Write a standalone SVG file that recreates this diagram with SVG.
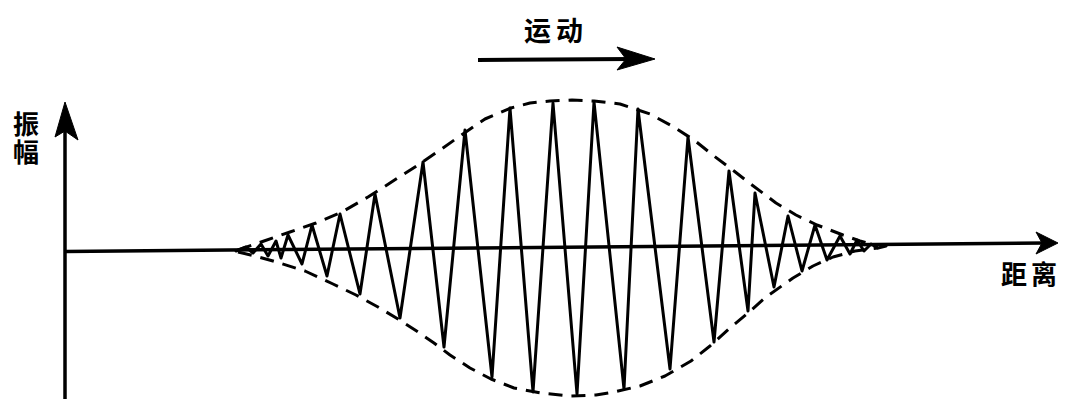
<svg xmlns="http://www.w3.org/2000/svg" width="1072" height="401" viewBox="0 0 1072 401">
<style>
.ax{fill:none;stroke:#000;stroke-width:3.5;stroke-linecap:butt}
.head{fill:#000;stroke:#000;stroke-width:1;stroke-linejoin:round}
.wave{fill:none;stroke:#000;stroke-width:3;stroke-linejoin:round;stroke-linecap:round}
.env{fill:none;stroke:#000;stroke-width:3;stroke-dasharray:14 9;stroke-linejoin:round}
.lbl{font-family:"Noto Sans CJK SC","Noto Sans",sans-serif;font-weight:bold;fill:#000}
</style>
<rect width="1072" height="401" fill="#fff"/>
<g id="connectors">
  <line class="ax" x1="65" y1="112" x2="65" y2="399"/>
  <polygon class="head" points="65,102 78,140 65,131 55,137"/>
  <line class="ax" x1="65" y1="251.5" x2="1045" y2="243"/>
  <polygon class="head" points="1058,243 1036,254 1042,243 1036,232"/>
  <line class="ax" x1="478" y1="60" x2="632" y2="59" style="stroke-width:4"/>
  <polygon class="head" points="655,59 617,70 626,59 617,47"/>
</g>
<g id="envelope">
  <path class="env" d="M238,250 L264,241 L290,232 L316,223 L342,212 L368,197 L390,183 L418,165 L440,150 L460,136 L485,119 L511,108 L530,103 L550,101 L572,100 L594,101 L620,104 L650,114 L672,126 L694,140 L714,156 L734,171 L752,185 L776,203 L796,215 L817,225 L843,235 L860,241 L878,246"/>
  <path class="env" d="M238,252 L255,256 L273,261 L305,271 L333,284 L356,295 L378,307 L398,319 L418,332 L434,343 L450,355 L470,368 L491,379 L514,388 L541,393 L571,396 L596,395 L614,392 L640,386 L665,376 L691,361 L710,346 L730,328 L748,313 L766,297 L793,278 L813,266 L833,257 L855,251 L878,248"/>
</g>
<g id="wave">
  <polyline class="wave" points="236,251 246,247 253,253 261,244 268,256 276,241 281,258 288,235 302,264 312,225 327,276 340,214 360,294 375,194 400,318 423,162 444,347 465,130 492,377 510,108 533,392 553,103 577,394 594,102 624,389 638,109 670,369 688,137 714,342 729,171 748,311 755,193 774,287 788,216 802,271 815,225 827,260 840,236 850,254 857,240 864,251 871,244 878,248 886,246"/>
</g>
<g id="label-amplitude">
  <text class="lbl" x="26" y="111" font-size="26" writing-mode="vertical-rl" letter-spacing="2">振幅</text>
</g>
<g id="label-motion">
  <text class="lbl" x="524" y="41" font-size="27" letter-spacing="5">运动</text>
</g>
<g id="label-distance">
  <text class="lbl" x="1001" y="284" font-size="26" letter-spacing="4">距离</text>
</g>
</svg>
